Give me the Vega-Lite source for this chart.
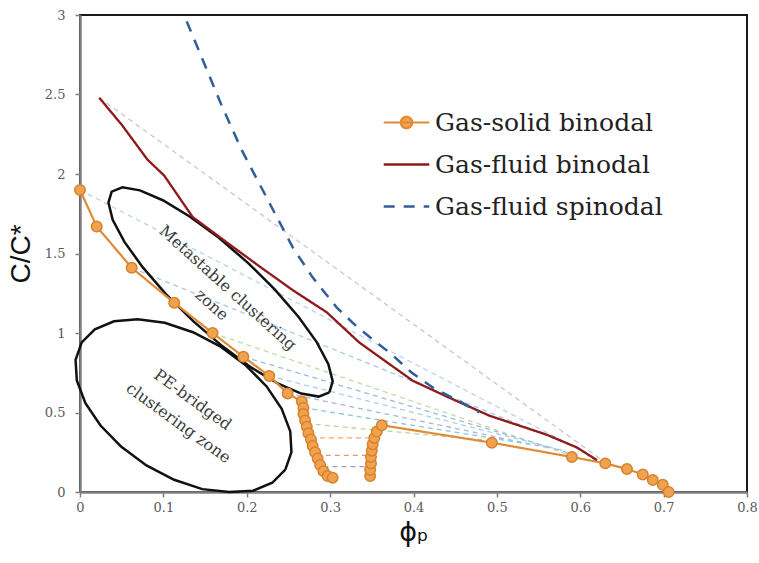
{
  "$schema": "https://vega.github.io/schema/vega-lite/v6.json",
  "width": 667,
  "height": 477,
  "autosize": {"type": "none"},
  "padding": {"left": 80, "top": 15, "right": 12, "bottom": 71},
  "background": "white",
  "config": {
    "view": {"stroke": "#1a1a1a", "strokeWidth": 2},
    "axis": {
      "grid": false,
      "domainColor": "#808080",
      "domainWidth": 2.5,
      "tickColor": "#808080",
      "tickWidth": 1.5,
      "tickSize": 5,
      "labelFont": "DejaVu Serif",
      "labelFontSize": 13,
      "labelColor": "#5a5a5a",
      "labelFlush": false,
      "titleFont": "Liberation Sans",
      "titleFontWeight": "normal",
      "titleColor": "#111111"
    }
  },
  "datasets": {
    "ties": [
      {"tie": "t1", "x": 0.023, "y": 2.48}, {"tie": "t1", "x": 0.629, "y": 0.19},
      {"tie": "t2", "x": 0.0, "y": 1.9}, {"tie": "t2", "x": 0.62, "y": 0.21},
      {"tie": "t3", "x": 0.062, "y": 1.41}, {"tie": "t3", "x": 0.6, "y": 0.27},
      {"tie": "t4", "x": 0.159, "y": 1.0}, {"tie": "t4", "x": 0.6, "y": 0.21},
      {"tie": "t5", "x": 0.196, "y": 0.85}, {"tie": "t5", "x": 0.59, "y": 0.24},
      {"tie": "t6", "x": 0.227, "y": 0.73}, {"tie": "t6", "x": 0.58, "y": 0.26},
      {"tie": "t7", "x": 0.249, "y": 0.62}, {"tie": "t7", "x": 0.56, "y": 0.28},
      {"tie": "t8", "x": 0.268, "y": 0.53}, {"tie": "t8", "x": 0.54, "y": 0.3},
      {"tie": "t9", "x": 0.272, "y": 0.43}, {"tie": "t9", "x": 0.5, "y": 0.32},
      {"tie": "t10", "x": 0.277, "y": 0.34}, {"tie": "t10", "x": 0.355, "y": 0.34},
      {"tie": "t11", "x": 0.284, "y": 0.23}, {"tie": "t11", "x": 0.349, "y": 0.23},
      {"tie": "t12", "x": 0.292, "y": 0.16}, {"tie": "t12", "x": 0.349, "y": 0.16}
    ],
    "ellipses": [
      {"e": "meta", "i": 0, "x": 0.2991, "y": 0.627},
      {"e": "meta", "i": 1, "x": 0.2863, "y": 0.6},
      {"e": "meta", "i": 2, "x": 0.2653, "y": 0.619},
      {"e": "meta", "i": 3, "x": 0.2378, "y": 0.681},
      {"e": "meta", "i": 4, "x": 0.2056, "y": 0.782},
      {"e": "meta", "i": 5, "x": 0.171, "y": 0.916},
      {"e": "meta", "i": 6, "x": 0.1361, "y": 1.073},
      {"e": "meta", "i": 7, "x": 0.1033, "y": 1.243},
      {"e": "meta", "i": 8, "x": 0.0751, "y": 1.414},
      {"e": "meta", "i": 9, "x": 0.0533, "y": 1.573},
      {"e": "meta", "i": 10, "x": 0.0392, "y": 1.712},
      {"e": "meta", "i": 11, "x": 0.0341, "y": 1.82},
      {"e": "meta", "i": 12, "x": 0.038, "y": 1.889},
      {"e": "meta", "i": 13, "x": 0.0509, "y": 1.916},
      {"e": "meta", "i": 14, "x": 0.0719, "y": 1.897},
      {"e": "meta", "i": 15, "x": 0.0993, "y": 1.835},
      {"e": "meta", "i": 16, "x": 0.1315, "y": 1.733},
      {"e": "meta", "i": 17, "x": 0.1662, "y": 1.6},
      {"e": "meta", "i": 18, "x": 0.2011, "y": 1.443},
      {"e": "meta", "i": 19, "x": 0.2338, "y": 1.273},
      {"e": "meta", "i": 20, "x": 0.262, "y": 1.102},
      {"e": "meta", "i": 21, "x": 0.2839, "y": 0.943},
      {"e": "meta", "i": 22, "x": 0.2979, "y": 0.804},
      {"e": "meta", "i": 23, "x": 0.3031, "y": 0.696},
      {"e": "meta", "i": 24, "x": 0.2991, "y": 0.627},
      {"e": "pe", "i": 0, "x": 0.2463, "y": 0.141},
      {"e": "pe", "i": 1, "x": 0.2306, "y": 0.058},
      {"e": "pe", "i": 2, "x": 0.2076, "y": 0.008},
      {"e": "pe", "i": 3, "x": 0.179, "y": 0.0},
      {"e": "pe", "i": 4, "x": 0.1467, "y": 0.018},
      {"e": "pe", "i": 5, "x": 0.1129, "y": 0.077},
      {"e": "pe", "i": 6, "x": 0.0797, "y": 0.167},
      {"e": "pe", "i": 7, "x": 0.0496, "y": 0.284},
      {"e": "pe", "i": 8, "x": 0.0246, "y": 0.418},
      {"e": "pe", "i": 9, "x": 0.0065, "y": 0.559},
      {"e": "pe", "i": 10, "x": -0.0038, "y": 0.701},
      {"e": "pe", "i": 11, "x": -0.0053, "y": 0.831},
      {"e": "pe", "i": 12, "x": 0.002, "y": 0.941},
      {"e": "pe", "i": 13, "x": 0.0178, "y": 1.023},
      {"e": "pe", "i": 14, "x": 0.0408, "y": 1.074},
      {"e": "pe", "i": 15, "x": 0.0693, "y": 1.087},
      {"e": "pe", "i": 16, "x": 0.1016, "y": 1.064},
      {"e": "pe", "i": 17, "x": 0.1355, "y": 1.005},
      {"e": "pe", "i": 18, "x": 0.1687, "y": 0.914},
      {"e": "pe", "i": 19, "x": 0.1988, "y": 0.797},
      {"e": "pe", "i": 20, "x": 0.2238, "y": 0.664},
      {"e": "pe", "i": 21, "x": 0.2419, "y": 0.523},
      {"e": "pe", "i": 22, "x": 0.2522, "y": 0.381},
      {"e": "pe", "i": 23, "x": 0.2536, "y": 0.251},
      {"e": "pe", "i": 24, "x": 0.2463, "y": 0.141}
    ],
    "curves": [
      {"series": "Gas-solid binodal", "seg": "a", "i": 0, "x": 0.0, "y": 1.9},
      {"series": "Gas-solid binodal", "seg": "a", "i": 1, "x": 0.02, "y": 1.67},
      {"series": "Gas-solid binodal", "seg": "a", "i": 2, "x": 0.062, "y": 1.41},
      {"series": "Gas-solid binodal", "seg": "a", "i": 3, "x": 0.113, "y": 1.19},
      {"series": "Gas-solid binodal", "seg": "a", "i": 4, "x": 0.159, "y": 1.0},
      {"series": "Gas-solid binodal", "seg": "a", "i": 5, "x": 0.196, "y": 0.85},
      {"series": "Gas-solid binodal", "seg": "a", "i": 6, "x": 0.227, "y": 0.73},
      {"series": "Gas-solid binodal", "seg": "a", "i": 7, "x": 0.249, "y": 0.62},
      {"series": "Gas-solid binodal", "seg": "a", "i": 8, "x": 0.266, "y": 0.57},
      {"series": "Gas-solid binodal", "seg": "a", "i": 9, "x": 0.268, "y": 0.53},
      {"series": "Gas-solid binodal", "seg": "a", "i": 10, "x": 0.268, "y": 0.49},
      {"series": "Gas-solid binodal", "seg": "a", "i": 11, "x": 0.27, "y": 0.45},
      {"series": "Gas-solid binodal", "seg": "a", "i": 12, "x": 0.272, "y": 0.41},
      {"series": "Gas-solid binodal", "seg": "a", "i": 13, "x": 0.274, "y": 0.37},
      {"series": "Gas-solid binodal", "seg": "a", "i": 14, "x": 0.277, "y": 0.33},
      {"series": "Gas-solid binodal", "seg": "a", "i": 15, "x": 0.279, "y": 0.29},
      {"series": "Gas-solid binodal", "seg": "a", "i": 16, "x": 0.282, "y": 0.25},
      {"series": "Gas-solid binodal", "seg": "a", "i": 17, "x": 0.285, "y": 0.21},
      {"series": "Gas-solid binodal", "seg": "a", "i": 18, "x": 0.288, "y": 0.17},
      {"series": "Gas-solid binodal", "seg": "a", "i": 19, "x": 0.292, "y": 0.13},
      {"series": "Gas-solid binodal", "seg": "a", "i": 20, "x": 0.297, "y": 0.1},
      {"series": "Gas-solid binodal", "seg": "a", "i": 21, "x": 0.303, "y": 0.09},
      {"series": "Gas-solid binodal", "seg": "b", "i": 22, "x": 0.348, "y": 0.1},
      {"series": "Gas-solid binodal", "seg": "b", "i": 23, "x": 0.348, "y": 0.14},
      {"series": "Gas-solid binodal", "seg": "b", "i": 24, "x": 0.349, "y": 0.18},
      {"series": "Gas-solid binodal", "seg": "b", "i": 25, "x": 0.349, "y": 0.22},
      {"series": "Gas-solid binodal", "seg": "b", "i": 26, "x": 0.35, "y": 0.26},
      {"series": "Gas-solid binodal", "seg": "b", "i": 27, "x": 0.351, "y": 0.3},
      {"series": "Gas-solid binodal", "seg": "b", "i": 28, "x": 0.353, "y": 0.34},
      {"series": "Gas-solid binodal", "seg": "b", "i": 29, "x": 0.356, "y": 0.38},
      {"series": "Gas-solid binodal", "seg": "b", "i": 30, "x": 0.362, "y": 0.42},
      {"series": "Gas-solid binodal", "seg": "b", "i": 31, "x": 0.494, "y": 0.31},
      {"series": "Gas-solid binodal", "seg": "b", "i": 32, "x": 0.59, "y": 0.22},
      {"series": "Gas-solid binodal", "seg": "b", "i": 33, "x": 0.63, "y": 0.18},
      {"series": "Gas-solid binodal", "seg": "b", "i": 34, "x": 0.656, "y": 0.145},
      {"series": "Gas-solid binodal", "seg": "b", "i": 35, "x": 0.675, "y": 0.11},
      {"series": "Gas-solid binodal", "seg": "b", "i": 36, "x": 0.687, "y": 0.075},
      {"series": "Gas-solid binodal", "seg": "b", "i": 37, "x": 0.699, "y": 0.045},
      {"series": "Gas-solid binodal", "seg": "b", "i": 38, "x": 0.706, "y": 0.0},
      {"series": "Gas-fluid binodal", "seg": "c", "i": 0, "x": 0.023, "y": 2.48},
      {"series": "Gas-fluid binodal", "seg": "c", "i": 1, "x": 0.05, "y": 2.31},
      {"series": "Gas-fluid binodal", "seg": "c", "i": 2, "x": 0.081, "y": 2.09},
      {"series": "Gas-fluid binodal", "seg": "c", "i": 3, "x": 0.101, "y": 1.99},
      {"series": "Gas-fluid binodal", "seg": "c", "i": 4, "x": 0.135, "y": 1.73},
      {"series": "Gas-fluid binodal", "seg": "c", "i": 5, "x": 0.176, "y": 1.57},
      {"series": "Gas-fluid binodal", "seg": "c", "i": 6, "x": 0.215, "y": 1.42},
      {"series": "Gas-fluid binodal", "seg": "c", "i": 7, "x": 0.255, "y": 1.27},
      {"series": "Gas-fluid binodal", "seg": "c", "i": 8, "x": 0.296, "y": 1.13},
      {"series": "Gas-fluid binodal", "seg": "c", "i": 9, "x": 0.335, "y": 0.94},
      {"series": "Gas-fluid binodal", "seg": "c", "i": 10, "x": 0.359, "y": 0.85},
      {"series": "Gas-fluid binodal", "seg": "c", "i": 11, "x": 0.399, "y": 0.7},
      {"series": "Gas-fluid binodal", "seg": "c", "i": 12, "x": 0.44, "y": 0.6},
      {"series": "Gas-fluid binodal", "seg": "c", "i": 13, "x": 0.491, "y": 0.48},
      {"series": "Gas-fluid binodal", "seg": "c", "i": 14, "x": 0.56, "y": 0.36},
      {"series": "Gas-fluid binodal", "seg": "c", "i": 15, "x": 0.596, "y": 0.28},
      {"series": "Gas-fluid binodal", "seg": "c", "i": 16, "x": 0.62, "y": 0.2},
      {"series": "Gas-fluid spinodal", "seg": "d", "i": 0, "x": 0.128, "y": 2.96},
      {"series": "Gas-fluid spinodal", "seg": "d", "i": 1, "x": 0.147, "y": 2.72},
      {"series": "Gas-fluid spinodal", "seg": "d", "i": 2, "x": 0.17, "y": 2.43},
      {"series": "Gas-fluid spinodal", "seg": "d", "i": 3, "x": 0.194, "y": 2.15},
      {"series": "Gas-fluid spinodal", "seg": "d", "i": 4, "x": 0.215, "y": 1.94},
      {"series": "Gas-fluid spinodal", "seg": "d", "i": 5, "x": 0.236, "y": 1.73},
      {"series": "Gas-fluid spinodal", "seg": "d", "i": 6, "x": 0.255, "y": 1.54},
      {"series": "Gas-fluid spinodal", "seg": "d", "i": 7, "x": 0.279, "y": 1.35},
      {"series": "Gas-fluid spinodal", "seg": "d", "i": 8, "x": 0.308, "y": 1.16},
      {"series": "Gas-fluid spinodal", "seg": "d", "i": 9, "x": 0.332, "y": 1.04},
      {"series": "Gas-fluid spinodal", "seg": "d", "i": 10, "x": 0.351, "y": 0.96},
      {"series": "Gas-fluid spinodal", "seg": "d", "i": 11, "x": 0.375, "y": 0.86},
      {"series": "Gas-fluid spinodal", "seg": "d", "i": 12, "x": 0.398, "y": 0.75},
      {"series": "Gas-fluid spinodal", "seg": "d", "i": 13, "x": 0.425, "y": 0.65},
      {"series": "Gas-fluid spinodal", "seg": "d", "i": 14, "x": 0.452, "y": 0.58},
      {"series": "Gas-fluid spinodal", "seg": "d", "i": 15, "x": 0.479, "y": 0.5}
    ],
    "notes1": [
      {"x": 0.177, "y": 1.283, "text": "Metastable clustering"},
      {"x": 0.158, "y": 1.176, "text": "zone"}
    ],
    "notes2": [
      {"x": 0.135, "y": 0.579, "text": "PE-bridged"},
      {"x": 0.118, "y": 0.434, "text": "clustering zone"}
    ]
  },
  "encoding": {
    "x": {
      "field": "x", "type": "quantitative",
      "scale": {"domain": [0, 0.8], "nice": false, "zero": false},
      "axis": {"values": [0, 0.1, 0.2, 0.3, 0.4, 0.5, 0.6, 0.7, 0.8], "format": "~g", "labelPadding": 4, "title": "ϕₚ", "titleFontSize": 27, "titlePadding": 5, "titleFont": "DejaVu Sans"}
    },
    "y": {
      "field": "y", "type": "quantitative",
      "scale": {"domain": [0, 3], "nice": false, "zero": false},
      "axis": {"values": [0, 0.5, 1, 1.5, 2, 2.5, 3], "format": "~g", "labelPadding": 10, "title": "C/C*", "titleFontSize": 28, "titlePadding": 9}
    }
  },
  "layer": [
    {
      "data": {"name": "ties"},
      "mark": {"type": "line", "strokeDash": [5, 4], "strokeWidth": 1.3},
      "encoding": {
        "stroke": {
          "field": "tie", "type": "nominal", "legend": null,
          "scale": {
            "domain": ["t1", "t2", "t3", "t4", "t5", "t6", "t7", "t8", "t9", "t10", "t11", "t12"],
            "range": ["#c8c3de", "#b9d3ec", "#a5cbe8", "#c3dca4", "#9fb9e0", "#a8d0ea", "#a9b4e0", "#86c8d8", "#b5d89a", "#f3a86a", "#d99a7e", "#a497cf"]
          }
        }
      }
    },
    {
      "data": {"name": "ellipses"},
      "mark": {"type": "line", "color": "#111111", "strokeWidth": 2.5},
      "encoding": {
        "detail": {"field": "e", "type": "nominal"},
        "order": {"field": "i", "type": "quantitative"}
      }
    },
    {
      "data": {"name": "curves"},
      "mark": {"type": "line"},
      "encoding": {
        "color": {
          "field": "series", "type": "nominal",
          "scale": {"domain": ["Gas-solid binodal", "Gas-fluid binodal", "Gas-fluid spinodal"], "range": ["#e08a35", "#8e1c1c", "#2f5f96"]},
          "legend": {
            "title": null,
            "orient": "none",
            "legendX": 306,
            "legendY": 87,
            "symbolSize": 1444,
            "symbolStrokeWidth": 3,
            "labelFont": "DejaVu Serif",
            "labelFontSize": 25,
            "labelColor": "#222222",
            "labelOffset": 8,
            "labelLimit": 0,
            "rowPadding": 8,
            "encode": {
              "symbols": {
                "update": {
                  "shape": {"signal": "datum.value === 'Gas-solid binodal' ? 'M-1.2,0L1.2,0M-0.3,0A0.3,0.3,0,1,1,0.3,0A0.3,0.3,0,1,1,-0.3,0Z' : 'M-1.2,0L1.2,0'"},
                  "fill": {"signal": "datum.value === 'Gas-solid binodal' ? '#f2a24e' : 'transparent'"},
                  "fillOpacity": {"value": 1}
                }
              }
            }
          }
        },
        "strokeDash": {
          "field": "series", "type": "nominal",
          "scale": {"domain": ["Gas-solid binodal", "Gas-fluid binodal", "Gas-fluid spinodal"], "range": [[1, 0], [1, 0], [11, 9]]}
        },
        "strokeWidth": {
          "field": "series", "type": "nominal", "legend": null,
          "scale": {"domain": ["Gas-solid binodal", "Gas-fluid binodal", "Gas-fluid spinodal"], "range": [2.2, 2.5, 3.5]}
        },
        "detail": {"field": "seg", "type": "nominal"},
        "order": {"field": "i", "type": "quantitative"}
      }
    },
    {
      "data": {"name": "curves"},
      "transform": [{"filter": "datum.series === 'Gas-solid binodal'"}],
      "mark": {"type": "point", "filled": true, "fill": "#f2a24e", "stroke": "#d4832f", "strokeWidth": 1.5, "size": 110, "opacity": 1}
    },
    {
      "data": {"name": "notes1"},
      "mark": {"type": "text", "angle": 42, "font": "DejaVu Serif", "fontSize": 16, "color": "#3c3c3c", "align": "center", "baseline": "middle"},
      "encoding": {"text": {"field": "text"}}
    },
    {
      "data": {"name": "notes2"},
      "mark": {"type": "text", "angle": 36, "font": "DejaVu Serif", "fontSize": 16, "color": "#3c3c3c", "align": "center", "baseline": "middle"},
      "encoding": {"text": {"field": "text"}}
    }
  ]
}
